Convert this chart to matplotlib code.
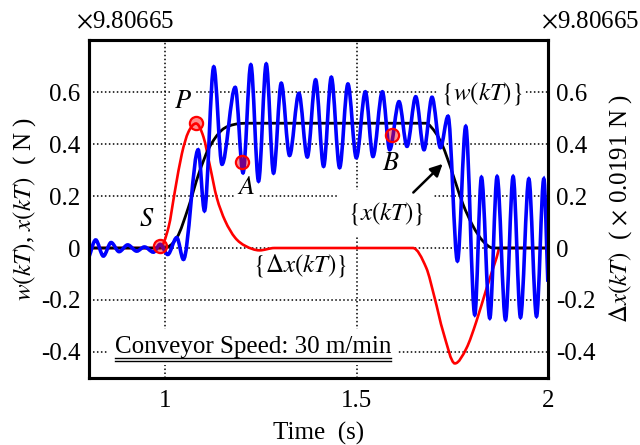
import matplotlib
matplotlib.use("Agg")
import matplotlib.pyplot as plt
from matplotlib.path import Path
from matplotlib.patches import PathPatch
from matplotlib.lines import Line2D

plt.rcParams['font.family'] = ['Liberation Serif', 'DejaVu Serif']
plt.rcParams['mathtext.fontset'] = 'stix'

# w(kT): peaks and troughs (time s, value)
w_t = [0.800, 0.8176, 0.8377, 0.8579, 0.8788, 0.9013, 0.9249, 0.945, 0.9686, 0.9861,
       1.006, 1.0296, 1.0471, 1.0856, 1.1021, 1.1264, 1.1479, 1.1825, 1.2029, 1.2233,
       1.2435, 1.2636, 1.2827, 1.3029, 1.3246, 1.349, 1.371, 1.3927, 1.4136, 1.4338,
       1.4555, 1.4772, 1.4992, 1.5228, 1.5427, 1.5673, 1.5864, 1.6108, 1.6317, 1.6545,
       1.6762, 1.6971, 1.7191, 1.739, 1.7636, 1.7853, 1.8089, 1.8264, 1.8482, 1.8673,
       1.8893, 1.9092, 1.9285, 1.9503, 1.9704, 1.9895, 2.000]
w_v = [-0.035, 0.031, -0.031, 0.021, -0.014, 0.012, -0.012, 0.004, -0.016, 0.014,
       -0.025, 0.040, -0.044, 0.378, 0.143, 0.697, 0.322, 0.618, 0.289, 0.705,
       0.257, 0.708, 0.288, 0.634, 0.356, 0.595, 0.350, 0.647, 0.314, 0.657,
       0.309, 0.631, 0.347, 0.601, 0.352, 0.601, 0.378, 0.563, 0.391, 0.582,
       0.378, 0.580, 0.386, 0.507, -0.050, 0.468, -0.257, 0.272, -0.270, 0.275,
       -0.276, 0.275, -0.267, 0.266, -0.263, 0.266, -0.130]

# x(kT)
x_t = [0.800, 0.995, 1.030, 1.060, 1.087, 1.113, 1.147, 1.182, 1.220, 1.680,
       1.708, 1.730, 1.757, 1.778, 1.804, 1.830, 1.857, 2.000]
x_v = [0.0, 0.0, 0.040, 0.156, 0.285, 0.382, 0.453, 0.476, 0.480, 0.480,
       0.440, 0.375, 0.259, 0.169, 0.085, 0.027, 0.0, 0.0]

# delta x(kT)
dx_t = [0.800, 0.985, 1.008, 1.025, 1.043, 1.060, 1.080, 1.0995, 1.117, 1.134,
        1.156, 1.182, 1.209, 1.246, 1.285, 1.647, 1.682, 1.704, 1.726, 1.757,
        1.787, 1.813, 1.840, 1.866, 1.874, 2.000]
dx_v = [0.0, 0.0, 0.079, 0.221, 0.363, 0.446, 0.479, 0.427, 0.311, 0.195,
        0.105, 0.040, 0.008, -0.009, 0.0, 0.0, -0.076, -0.192, -0.321, -0.444,
        -0.386, -0.283, -0.154, -0.037, 0.0, 0.0]

# marked points S, P, A, B
mark_names = ['S', 'P', 'A', 'B']
mark_t = [0.987, 1.080, 1.200, 1.593]
mark_v = [0.009, 0.480, 0.330, 0.434]

y_ticks = [-0.4, -0.2, 0, 0.2, 0.4, 0.6]
y_labels = ['-0.4', '-0.2', '0', '0.2', '0.4', '0.6']
x_ticks = [1, 1.5, 2]
x_labels = ['1', '1.5', '2']


def smooth_path(ts, vs):
    # bezier through the read points, flat tangent at turning points
    n = len(ts)
    slopes = []
    for i in range(n):
        if i == 0:
            s = (vs[1] - vs[0]) / (ts[1] - ts[0])
        elif i == n - 1:
            s = (vs[-1] - vs[-2]) / (ts[-1] - ts[-2])
        elif (vs[i] - vs[i - 1]) * (vs[i + 1] - vs[i]) <= 0:
            s = 0.0
        else:
            s = (vs[i + 1] - vs[i - 1]) / (ts[i + 1] - ts[i - 1])
        slopes.append(s)
    verts = [(ts[0], vs[0])]
    codes = [Path.MOVETO]
    for i in range(n - 1):
        d = (ts[i + 1] - ts[i]) / 3
        verts += [(ts[i] + d, vs[i] + slopes[i] * d),
                  (ts[i + 1] - d, vs[i + 1] - slopes[i + 1] * d),
                  (ts[i + 1], vs[i + 1])]
        codes += [Path.CURVE4] * 3
    return Path(verts, codes)


fig = plt.figure(figsize=(6.4, 4.45), dpi=100)
ax = fig.add_axes([0.139, 0.1506, 0.717, 0.7594])
ax.set_xlim(0.8, 2)
ax.set_ylim(-0.5, 0.8)

ax.add_patch(PathPatch(smooth_path(dx_t, dx_v), fill=False, edgecolor='red', lw=1.9, zorder=4))
ax.add_patch(PathPatch(smooth_path(x_t, x_v), fill=False, edgecolor='black', lw=2.0, zorder=4))
ax.add_patch(PathPatch(smooth_path(w_t, w_v), fill=False, edgecolor='blue', lw=2.6, zorder=4))
ax.plot(mark_t, mark_v, 'o', ms=9.5, mfc=(1, 0, 0, 0.45), mec='red', mew=1.6, zorder=5)

ax.set_xticks(x_ticks)
ax.set_xticklabels(x_labels)
ax.set_yticks(y_ticks)
ax.set_yticklabels(y_labels)
ax.tick_params(length=0, labelsize=18, pad=6)
ax.tick_params(axis='x', pad=9)
ax.grid(True, color='black', lw=1.1, linestyle=(0, (1, 1.6)))
ax.set_axisbelow(True)
for s in ax.spines.values():
    s.set_linewidth(2.2)
ax.set_xlabel('Time  (s)', fontsize=18, labelpad=7)
ax.set_ylabel(r'$w(kT)$, $x(kT)$  ( N )', fontsize=18, labelpad=2)

ax2 = ax.twinx()
ax2.set_ylim(-0.5, 0.8)
ax2.set_yticks(y_ticks)
ax2.set_yticklabels(y_labels)
ax2.tick_params(length=0, labelsize=18, pad=6)
ax2.set_ylabel(r'$\Delta x(kT)$  ( $\times$ 0.0191 N )', fontsize=18, labelpad=8)
for s in ax2.spines.values():
    s.set_linewidth(2.2)

box = dict(facecolor='white', edgecolor='none', pad=2)
label_pos = {'S': (0.951, 0.106), 'P': (1.045, 0.563), 'A': (1.212, 0.229), 'B': (1.589, 0.325)}
for name in mark_names:
    lx, ly = label_pos[name]
    ax.text(lx, ly, '$' + name + '$', fontsize=19, ha='center', va='center', bbox=box, zorder=3)

ax.text(1.827, 0.596, r'$\{w(kT)\}$', fontsize=18, ha='center', va='center', bbox=box, zorder=3)
ax.text(1.576, 0.132, r'$\{x(kT)\}$', fontsize=18, ha='center', va='center',
        bbox=dict(facecolor='white', edgecolor='none', pad=7), zorder=3)
ax.text(1.351, -0.069, r'$\{\Delta x(kT)\}$', fontsize=18, ha='center', va='center', bbox=box, zorder=3)
ax.annotate('', xy=(1.730, 0.331), xytext=(1.643, 0.206),
            arrowprops=dict(arrowstyle='-|>', color='black', lw=1.8, mutation_scale=18), zorder=5)

conv = ax.text(0.8675, -0.405, 'Conveyor Speed: 30 m/min', fontsize=18, ha='left', va='baseline',
               bbox=dict(facecolor='white', edgecolor='none', pad=5), zorder=3)

fig.text(0.195, 0.95, r'$\times$9.80665', fontsize=18, ha='center', va='center')
fig.text(0.922, 0.95, r'$\times$9.80665', fontsize=18, ha='center', va='center')

# double underline under the speed label
fig.canvas.draw()
bb = conv.get_window_extent().transformed(ax.transData.inverted())
for yy in (-0.4232, -0.4359):
    ax.add_line(Line2D([bb.x0, bb.x1], [yy, yy], color='black', lw=1.0, zorder=3.5))

fig.savefig('out.png', dpi=100)
